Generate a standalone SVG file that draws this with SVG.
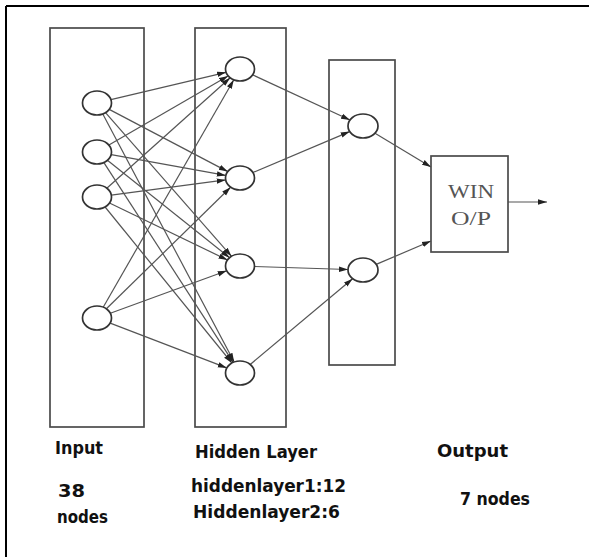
<svg xmlns="http://www.w3.org/2000/svg" width="589" height="557" viewBox="0 0 589 557">
<style>
.box{fill:none;stroke:#4a4a4a;stroke-width:1.7}
.node{fill:#fff;stroke:#333;stroke-width:1.7}
.edge{stroke:#555;stroke-width:1.2;fill:none;marker-end:url(#ah)}
.lbl{font-family:"DejaVu Sans Condensed","DejaVu Sans",sans-serif;font-weight:bold;font-size:17px;fill:#111}
.win{font-family:"Liberation Serif",serif;font-size:19px;fill:#555;text-anchor:middle}
</style>
<defs>
<marker id="ah" markerUnits="userSpaceOnUse" markerWidth="10" markerHeight="7" refX="9" refY="3.5" orient="auto">
<path d="M0,0.8 L9,3.5 L0,6.2 z" fill="#222"/>
</marker>
</defs>
<rect width="589" height="557" fill="#fff"/>
<g id="frame">
<line x1="6" y1="6" x2="589" y2="6" stroke="#000" stroke-width="2"/>
<line x1="6" y1="6" x2="6" y2="557" stroke="#000" stroke-width="2"/>
</g>
<g id="input-layer"><rect class="box" x="50" y="28" width="94" height="399"/></g>
<g id="hidden-layer"><rect class="box" x="195" y="28" width="91" height="399"/></g>
<g id="output-layer"><rect class="box" x="329" y="60" width="66" height="305"/></g>
<g id="connectors">
<line class="edge" x1="110.9" y1="99.7" x2="226.1" y2="72.3"/>
<line class="edge" x1="109.2" y1="109.4" x2="227.8" y2="171.6"/>
<line class="edge" x1="105.5" y1="112.7" x2="231.5" y2="256.3"/>
<line class="edge" x1="102.8" y1="114.0" x2="234.2" y2="362.0"/>
<line class="edge" x1="108.9" y1="145.1" x2="228.1" y2="75.9"/>
<line class="edge" x1="111.2" y1="154.6" x2="225.8" y2="175.4"/>
<line class="edge" x1="107.4" y1="160.3" x2="229.6" y2="257.7"/>
<line class="edge" x1="103.9" y1="162.6" x2="233.2" y2="362.4"/>
<line class="edge" x1="106.8" y1="188.2" x2="230.2" y2="77.8"/>
<line class="edge" x1="111.3" y1="195.1" x2="225.7" y2="179.9"/>
<line class="edge" x1="109.5" y1="203.0" x2="227.5" y2="260.0"/>
<line class="edge" x1="105.1" y1="207.0" x2="231.9" y2="363.0"/>
<line class="edge" x1="103.2" y1="307.2" x2="233.8" y2="79.8"/>
<line class="edge" x1="106.4" y1="308.8" x2="230.6" y2="187.2"/>
<line class="edge" x1="110.3" y1="313.2" x2="226.7" y2="270.8"/>
<line class="edge" x1="110.2" y1="323.1" x2="226.8" y2="367.9"/>
<line class="edge" x1="252.7" y1="74.9" x2="350.0" y2="120.0"/>
<line class="edge" x1="252.9" y1="172.5" x2="349.7" y2="131.6"/>
<line class="edge" x1="254.5" y1="266.5" x2="348.0" y2="269.5"/>
<line class="edge" x1="250.2" y1="364.5" x2="352.6" y2="278.7"/>
<line class="edge" x1="375" y1="133.2" x2="431" y2="167"/>
<line class="edge" x1="376.2" y1="264.4" x2="431" y2="241"/>
<line class="edge" x1="508" y1="202" x2="547" y2="202"/>
</g>
<g id="in1"><ellipse class="node" cx="97" cy="103" rx="14.5" ry="12"/></g>
<g id="in2"><ellipse class="node" cx="97" cy="152" rx="14.5" ry="12"/></g>
<g id="in3"><ellipse class="node" cx="97" cy="197" rx="14.5" ry="12"/></g>
<g id="in4"><ellipse class="node" cx="97" cy="318" rx="14.5" ry="12"/></g>
<g id="h1"><ellipse class="node" cx="240" cy="69" rx="14.5" ry="12"/></g>
<g id="h2"><ellipse class="node" cx="240" cy="178" rx="14.5" ry="12"/></g>
<g id="h3"><ellipse class="node" cx="240" cy="266" rx="14.5" ry="12"/></g>
<g id="h4"><ellipse class="node" cx="240" cy="373" rx="14.5" ry="12"/></g>
<g id="o1"><ellipse class="node" cx="363" cy="126" rx="15" ry="12"/></g>
<g id="o2"><ellipse class="node" cx="363" cy="270" rx="15" ry="12"/></g>
<g id="win">
<rect class="box" x="431" y="156" width="77" height="96" fill="#fff"/>
<text class="win" x="471" y="198" textLength="46" lengthAdjust="spacingAndGlyphs">WIN</text>
<text class="win" x="471" y="225" textLength="40" lengthAdjust="spacingAndGlyphs">O/P</text>
</g>
<g id="labels">
<text class="lbl" x="55" y="454" textLength="48" lengthAdjust="spacingAndGlyphs">Input</text>
<text class="lbl" x="58" y="497" textLength="27" lengthAdjust="spacingAndGlyphs">38</text>
<text class="lbl" x="57" y="523" textLength="51" lengthAdjust="spacingAndGlyphs">nodes</text>
<text class="lbl" x="195" y="458" textLength="122" lengthAdjust="spacingAndGlyphs">Hidden Layer</text>
<text class="lbl" x="191" y="492" textLength="155" lengthAdjust="spacingAndGlyphs">hiddenlayer1:12</text>
<text class="lbl" x="193" y="518" textLength="147" lengthAdjust="spacingAndGlyphs">Hiddenlayer2:6</text>
<text class="lbl" x="437" y="457" textLength="71" lengthAdjust="spacingAndGlyphs">Output</text>
<text class="lbl" x="460" y="505" textLength="70" lengthAdjust="spacingAndGlyphs">7 nodes</text>
</g>
</svg>
